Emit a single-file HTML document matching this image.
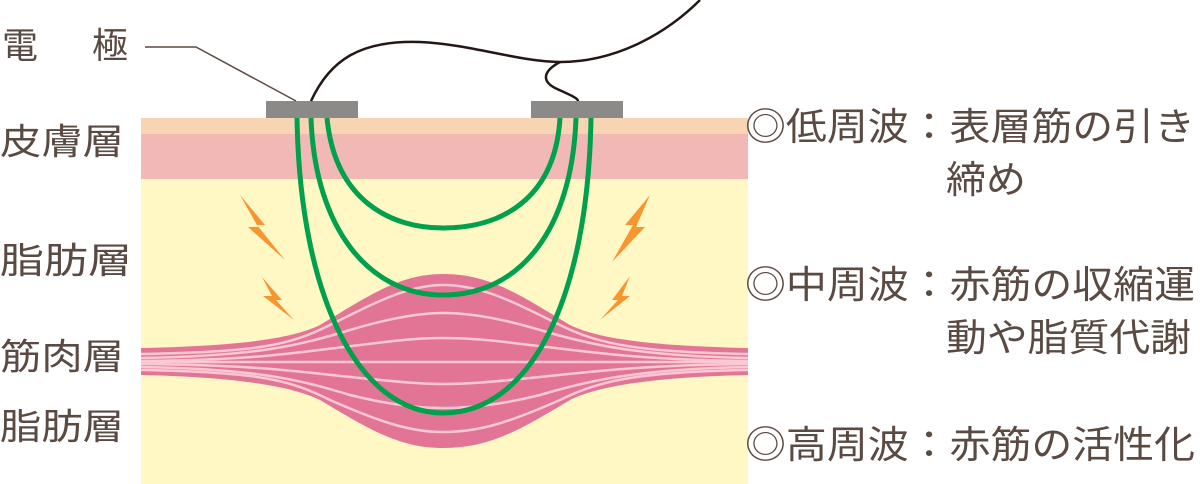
<!DOCTYPE html>
<html><head><meta charset="utf-8"><style>
html,body{margin:0;padding:0;background:#fff;}
svg{display:block}
text{font-family:"Liberation Sans","Noto Sans CJK JP",sans-serif;fill:#5a4a42;}
</style></head><body>
<svg width="1200" height="484" viewBox="0 0 1200 484" xmlns="http://www.w3.org/2000/svg">
<rect x="141" y="118" width="607" height="16" fill="#f7d5b3"/>
<rect x="141" y="134" width="607" height="45" fill="#f2b8b5"/>
<rect x="141" y="179" width="607" height="305" fill="#fff8c5"/>
<path d="M141 348 C230 346 290 340 320 325 C370 295 400 274 443 274 C490 274 520 295 570 325 C600 340 660 346 748 348 L748 375 C660 377 600 385 570 400 C520 430 490 448 443 448 C400 448 370 430 320 400 C290 385 230 377 141 375 Z" fill="#e27596"/>
<g fill="none" stroke="#fcc8d4" stroke-width="2.5">
<path d="M141 354 C260 352 290 345 330 325 C380 300 410 285 443 285 C480 285 510 300 560 325 C600 345 640 352 748 354"/>
<path d="M141 358 C260 356 300 345 350 330 C390 318 420 313 443 313 C470 313 500 318 540 330 C590 345 640 356 748 358"/>
<path d="M141 361 C260 360 300 352 360 345 C400 340 420 338 443 338 C470 338 490 340 530 345 C590 352 640 360 748 361"/>
<path d="M141 362 L748 362"/>
<path d="M141 364 C260 365 300 372 360 378 C400 382 420 384 443 384 C470 384 490 382 530 378 C590 372 640 365 748 364"/>
<path d="M141 367 C260 369 300 380 350 395 C390 405 420 408 443 408 C470 408 500 405 540 395 C590 380 640 369 748 367"/>
<path d="M141 370 C260 372 290 380 330 400 C380 422 410 432 443 432 C480 432 510 422 560 400 C600 380 640 372 748 370"/>
</g>
<g fill="none" stroke="#00a04d" stroke-width="5">
<path d="M327 118 C335 200 390 228 443 228 C500 228 555 200 560 118"/>
<path d="M311 118 C315 230 370 295 443 295 C520 295 572 230 576 118"/>
<path d="M297 118 C300 300 360 413 443 413 C530 413 588 300 591 118"/>
</g>
<rect x="266" y="101" width="92" height="17" fill="#8b8a88"/>
<rect x="531" y="101" width="92" height="17" fill="#8b8a88"/>
<path d="M311 101 C330 60 360 40 420 42 C470 44 520 62 560 62 C620 62 670 30 700 0" fill="none" stroke="#231815" stroke-width="2.5"/>
<path d="M560 62 C545 70 540 80 555 88 C570 95 578 98 578 101" fill="none" stroke="#231815" stroke-width="2.5"/>
<polyline points="145,47 196,47 296,101" fill="none" stroke="#5a4a42" stroke-width="1.5"/>
<g fill="#f7962f">
<polygon points="240,195 265,225 257,225 285,260 248,227 258,227"/>
<polygon points="262,277 282,300 276,300 294,320 263,296 272,296"/>
<polygon points="650,195 625,225 633,225 612,262 645,227 636,227"/>
<polygon points="630,276 612,300 618,300 600,320 630,296 622,296"/>
</g>
<g font-size="36">
<text x="2" y="58">電</text><text x="92" y="58">極</text>
<text x="0" y="154" textLength="124" lengthAdjust="spacingAndGlyphs">皮膚層</text>
<text x="0" y="273" textLength="132" lengthAdjust="spacingAndGlyphs">脂肪層</text>
<text x="0" y="369" textLength="124" lengthAdjust="spacingAndGlyphs">筋肉層</text>
<text x="0" y="439" textLength="124" lengthAdjust="spacingAndGlyphs">脂肪層</text>
</g>
<g font-size="38">
<text x="745" y="140" textLength="450" lengthAdjust="spacingAndGlyphs">◎低周波：表層筋の引き</text>
<text x="946" y="193" textLength="80" lengthAdjust="spacingAndGlyphs">締め</text>
<text x="745" y="298" textLength="450" lengthAdjust="spacingAndGlyphs">◎中周波：赤筋の収縮運</text>
<text x="946" y="351" textLength="245" lengthAdjust="spacingAndGlyphs">動や脂質代謝</text>
<text x="745" y="458" textLength="450" lengthAdjust="spacingAndGlyphs">◎高周波：赤筋の活性化</text>
</g>
</svg>
</body></html>
